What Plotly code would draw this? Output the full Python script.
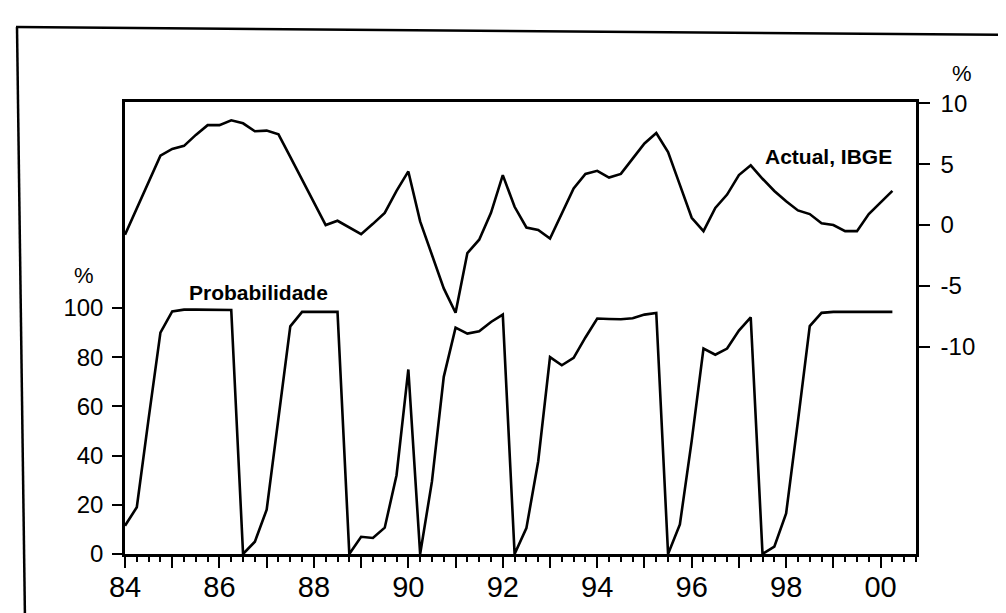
import plotly.graph_objects as go

# ---------------- data (quarterly, 1984Q1 .. 2000Q2) ----------------
start_year = 1984
actual_ibge = [
    -0.8, 1.4, 3.5, 5.7, 6.25, 6.5, 7.4, 8.2, 8.2, 8.6,
    8.35, 7.7, 7.75, 7.45, 5.6, 3.7, 1.9, 0.0, 0.35, -0.2,
    -0.75, 0.1, 1.0, 2.8, 4.4, 0.3, -2.4, -5.2, -7.2, -2.3,
    -1.2, 1.0, 4.1, 1.5, -0.2, -0.4, -1.1, 1.0, 3.0, 4.2,
    4.45, 3.9, 4.2, 5.45, 6.7, 7.55, 6.0, 3.3, 0.6, -0.5,
    1.4, 2.5, 4.1, 4.9, 3.8, 2.8, 1.95, 1.2, 0.9, 0.15,
    0.0, -0.5, -0.5, 0.9, 1.85, 2.8,
]
probabilidade = [
    11.5, 19, 55, 90, 98.6, 99.3, 99.3, 99.3, 99.3, 99.2,
    0, 5, 18, 55, 92.5, 98.4, 98.5, 98.5, 98.4, 0,
    7, 6.5, 10.7, 32, 75, 0, 29.5, 72, 92, 89.6,
    90.5, 94.3, 97.3, 0, 10.5, 37.7, 80, 76.7, 79.7, 88,
    95.7, 95.5, 95.4, 95.8, 97.3, 98, 0, 12, 46, 83.5,
    81, 83.5, 90.8, 96.2, 0, 3, 16.5, 54, 92.6, 98,
    98.4, 98.4, 98.4, 98.4, 98.4, 98.4,
]
year_ticks = list(range(1984, 2001))
year_labels = ["84", "", "86", "", "88", "", "90", "", "92", "", "94", "", "96", "", "98", "", "00"]
left_ticks = [0, 20, 40, 60, 80, 100]
left_labels = ["0", "20", "40", "60", "80", "100"]
right_ticks = [-10, -5, 0, 5, 10]
right_labels = ["-10", "-5", "0", "5", "10"]

dates = [start_year + i / 4 for i in range(len(actual_ibge))]

# ---------------- layout geometry (pixels) ----------------
W, H = 1006, 613
L, R, T, B = 117, 908, 94, 546


def px(x):
    return (x - L) / (R - L)


def py(y):
    return (B - y) / (B - T)


FONT = "Arial, Liberation Sans, Helvetica, sans-serif"

fig = go.Figure()
fig.add_trace(go.Scatter(
    x=dates, y=probabilidade, mode="lines", name="Probabilidade",
    line=dict(color="black", width=2.6), yaxis="y",
))
fig.add_trace(go.Scatter(
    x=dates, y=actual_ibge, mode="lines", name="Actual, IBGE",
    line=dict(color="black", width=2.6), yaxis="y2",
))

fig.update_layout(
    width=W, height=H, autosize=False,
    margin=dict(l=L, r=W - R, t=T, b=H - B, pad=0),
    paper_bgcolor="white", plot_bgcolor="white",
    showlegend=False,
    font=dict(family=FONT, color="black"),
    xaxis=dict(
        range=[1984, 2000.75], showgrid=False, zeroline=False,
        showline=True, linecolor="black", linewidth=2.5, mirror=True,
        tickmode="array", tickvals=year_ticks, ticktext=year_labels,
        ticks="outside", ticklen=11, tickwidth=2, tickcolor="black",
        tickfont=dict(size=29, family=FONT), ticklabelstandoff=-6,
        minor=dict(dtick=0.25, tick0=1984, ticks="outside", ticklen=5,
                   tickwidth=1.5, tickcolor="black", showgrid=False),
    ),
    yaxis=dict(
        range=[0, 183.7], showgrid=False, zeroline=False,
        showline=True, linecolor="black", linewidth=2.5,
        tickmode="array", tickvals=left_ticks, ticktext=left_labels,
        ticks="outside", ticklen=10, tickwidth=2, tickcolor="black",
        tickfont=dict(size=24, family=FONT), ticklabelstandoff=4,
    ),
    yaxis2=dict(
        range=[-27.0, 10.1], overlaying="y", side="right",
        showgrid=False, zeroline=False,
        showline=True, linecolor="black", linewidth=2.5,
        tickmode="array", tickvals=right_ticks, ticktext=right_labels,
        ticks="outside", ticklen=11, tickwidth=2, tickcolor="black",
        tickfont=dict(size=24, family=FONT), ticklabelstandoff=6,
    ),
)

annotations = [
    ("<b>Probabilidade</b>", 250, 284, 21),
    ("<b>Actual, IBGE</b>", 820, 148, 21),
    ("%", 76, 267, 22),
    ("%", 954, 65, 22),
]
for text, ax, ay, size in annotations:
    fig.add_annotation(xref="paper", yref="paper", showarrow=False,
                       xanchor="center", yanchor="middle",
                       font=dict(family=FONT, color="black", size=size),
                       text=text, x=px(ax), y=py(ay))

# outer scanned frame edges
fig.add_shape(type="line", xref="paper", yref="paper",
              x0=px(8), y0=py(19), x1=px(1006), y1=py(27),
              line=dict(color="black", width=2.5))
fig.add_shape(type="line", xref="paper", yref="paper",
              x0=px(9), y0=py(19), x1=px(17), y1=py(613),
              line=dict(color="black", width=2.5))
fig.add_shape(type="line", xref="paper", yref="paper",
              x0=px(17), y0=py(609), x1=px(1006), y1=py(609),
              line=dict(color="#555555", width=2))

fig.write_html("out.html")
